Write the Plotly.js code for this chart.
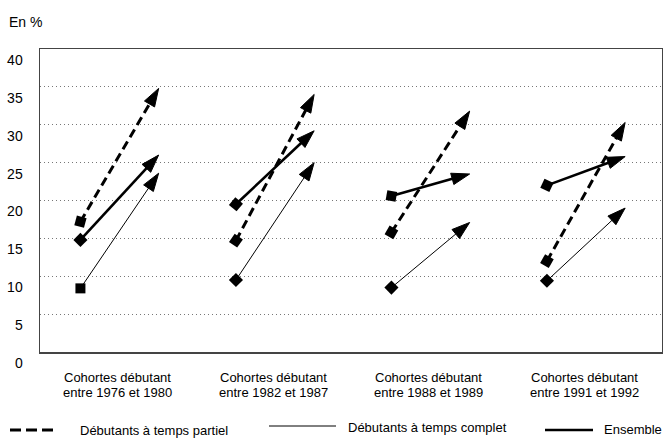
<!DOCTYPE html>
<html>
<head>
<meta charset="utf-8">
<script src="https://cdn.plot.ly/plotly-3.0.1.min.js"></script>
<style>html,body{margin:0;padding:0;background:#fff;}#chart{width:663px;height:441px;}</style>
</head>
<body>
<div id="chart"></div>
<script>
// ---- data ----
const cohortLine1 = 'Cohortes débutant';
const cohortLine2 = ['entre 1976 et 1980', 'entre 1982 et 1987', 'entre 1988 et 1989', 'entre 1991 et 1992'];
const seriesNames = ['Débutants à temps partiel', 'Débutants à temps complet', 'Ensemble'];
const partialStart = [17.2, 14.7, 15.8, 12.0];
const partialEnd   = [34.8, 34.0, 31.8, 30.3];
const fullStart    = [8.4, 9.5, 8.5, 9.4];
const fullEnd      = [23.6, 25.0, 17.1, 19.0];
const totalStart   = [14.8, 19.5, 20.6, 22.0];
const totalEnd     = [26.0, 29.2, 23.5, 25.8];
const yTicks = [0, 5, 10, 15, 20, 25, 30, 35, 40];

// ---- styles ----
const FONT = "'Liberation Sans', Arial, sans-serif";
const FS = 13;
const W = 663, H = 441, M = {l: 40, r: 1, t: 49, b: 89};
const PW = W - M.l - M.r, PH = H - M.t - M.b;
const px2x = p => (p - M.l) / PW;
const px2y = p => (H - M.b - p) / PH;
const START_OFF = -0.24, END_OFF = 0.263;

const styles = [
  {line: {color: '#000', width: 3, dash: '9px,5px'}, angles: [15, 35, 30, 30]},
  {line: {color: '#000', width: 1}, angles: [0, 45, 45, 45]},
  {line: {color: '#000', width: 2.6}, angles: [45, 40, 10, 25]}
];
const starts = [partialStart, fullStart, totalStart];
const ends = [partialEnd, fullEnd, totalEnd];

const traces = [];
for (let s = 0; s < 3; s++) {
  for (let g = 0; g < cohortLine2.length; g++) {
    // line with arrowhead at the end value
    traces.push({
      type: 'scatter', mode: 'lines+markers', showlegend: false, hoverinfo: 'skip',
      name: seriesNames[s],
      x: [g + START_OFF, g + END_OFF],
      y: [starts[s][g], ends[s][g]],
      line: styles[s].line,
      marker: {
        color: '#000', symbol: 'arrow', size: 19, angleref: 'previous',
        line: {width: 1, color: '#000'}
      }
    });
    // start marker
    traces.push({
      type: 'scatter', mode: 'markers', showlegend: false, hoverinfo: 'skip',
      name: seriesNames[s],
      x: [g + START_OFF],
      y: [starts[s][g]],
      marker: {color: '#000', symbol: 'square', size: 10, angle: styles[s].angles[g], line: {width: 0}}
    });
  }
}

const annotations = [];
cohortLine2.forEach((t, i) => {
  annotations.push({x: i, xref: 'x', y: 0, yref: 'paper', yanchor: 'middle', yshift: -25,
    text: cohortLine1, showarrow: false, font: {family: FONT, size: FS, color: '#000'}});
  annotations.push({x: i, xref: 'x', y: 0, yref: 'paper', yanchor: 'middle', yshift: -40.5,
    text: t, showarrow: false, font: {family: FONT, size: FS, color: '#000'}});
});
annotations.push({x: px2x(7), xref: 'paper', xanchor: 'left', y: px2y(22), yref: 'paper', yanchor: 'middle',
  text: 'En %', showarrow: false, font: {family: FONT, size: 14, color: '#000'}});

// legend
const legendItems = [
  {x0: 10, x1: 53, ly: 430, tx: 78, ty: 430, style: styles[0].line},
  {x0: 269, x1: 336, ly: 426, tx: 346, ty: 427, style: styles[1].line},
  {x0: 545, x1: 593, ly: 430, tx: 602, ty: 429, style: styles[2].line}
];
const shapes = [];
legendItems.forEach((it, i) => {
  const ln = Object.assign({}, it.style);
  if (i === 0) ln.dash = '11px,5px';
  shapes.push({type: 'line', xref: 'paper', yref: 'paper',
    x0: px2x(it.x0), x1: px2x(it.x1), y0: px2y(it.ly), y1: px2y(it.ly), line: ln});
  annotations.push({x: px2x(it.tx), xref: 'paper', xanchor: 'left', y: px2y(it.ty), yref: 'paper', yanchor: 'middle',
    text: seriesNames[i], showarrow: false, font: {family: FONT, size: FS, color: '#000'}});
});

const layout = {
  width: W, height: H,
  margin: M,
  paper_bgcolor: '#fff', plot_bgcolor: '#fff',
  font: {family: FONT, size: FS, color: '#000'},
  xaxis: {range: [-0.5, 3.5], showgrid: false, zeroline: false, showticklabels: false, ticks: '',
    showline: true, mirror: true, linecolor: '#444', linewidth: 1.5, fixedrange: true},
  yaxis: {range: [0, 40], tickvals: yTicks, ticktext: yTicks.map(String), showgrid: true,
    gridcolor: '#777', gridwidth: 1, griddash: '1px,3px', zeroline: false, ticks: '',
    showline: true, mirror: true, linecolor: '#444', linewidth: 1.5,
    ticklabelstandoff: 13, ticklabelshift: 11,
    tickfont: {family: FONT, size: 14, color: '#000'}, fixedrange: true},
  annotations: annotations,
  shapes: shapes
};

Plotly.newPlot('chart', traces, layout, {staticPlot: true, displayModeBar: false});
</script>
</body>
</html>
